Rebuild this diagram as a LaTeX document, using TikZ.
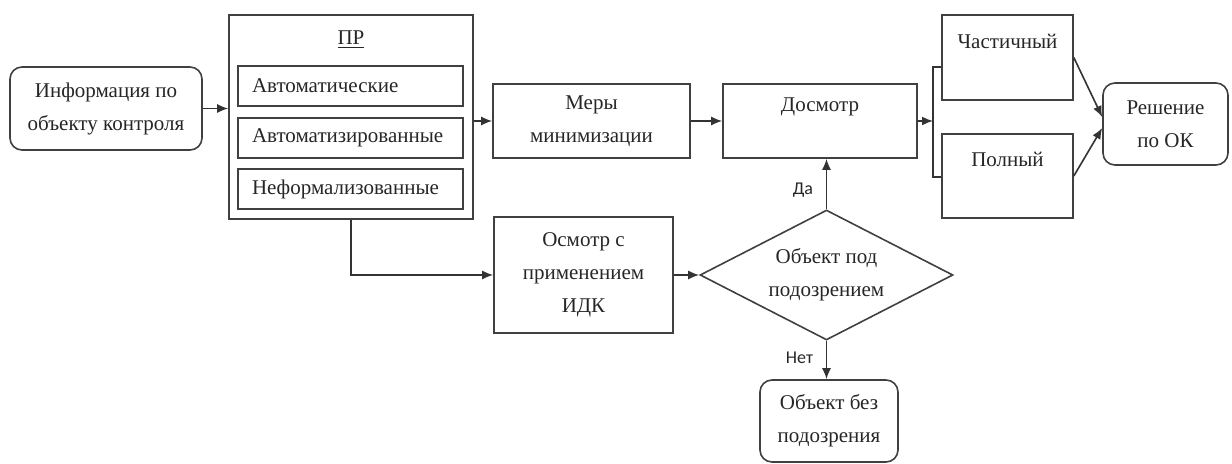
\documentclass[tikz,border=0pt]{standalone}
\usepackage{fontspec}
\setmainfont{Liberation Serif}
\newfontfamily\lblfont{Carlito}
\usetikzlibrary{shapes.geometric,arrows.meta}
\begin{document}
\begin{tikzpicture}[x=0.5pt,y=-0.5pt,
  every node/.style={font=\fontsize{10.5}{16.5}\selectfont, text=black!85},
  box/.style={draw=black!75, line width=0.8pt, align=center, inner sep=0pt},
  rbox/.style={box, rounded corners=6pt},
  subbox/.style={draw=black!75, line width=0.8pt, align=left, text width=98.5pt, inner xsep=7pt, inner ysep=0pt, minimum height=20pt},
  decision/.style={diamond, draw=black!75, line width=0.8pt, align=center, inner sep=0pt, aspect=1.95, minimum width=126.5pt, minimum height=65pt},
  arr/.style={-{Latex[length=5.5pt,width=4.5pt]}, line width=0.8pt, draw=black!80},
  ln/.style={line width=0.8pt, draw=black!80},
  lbl/.style={font=\lblfont\fontsize{9}{11}\selectfont, text=black!85}
]
\useasboundingbox (0,0) rectangle (1232,464);

\node[rbox, minimum width=96pt, minimum height=41.5pt] (info) at (106,108.5) {Информация по\\объекту контроля};

\node[box, minimum width=122pt, minimum height=102pt] (pr) at (351,117) {};
\node (prt) at (351,40) {\underline{ПР}};
\node[subbox] (a1) at (350.5,86) {Автоматические};
\node[subbox] (a2) at (350.5,138) {Автоматизированные};
\node[subbox] (a3) at (350.5,189) {Неформализованные};

\node[box, minimum width=98.5pt, minimum height=37pt] (mery) at (591.5,121) {Меры\\минимизации};
\node[box, minimum width=97pt, minimum height=37pt] (dos) at (820,121) {Досмотр\\\mbox{}};

\node[box, minimum width=65.5pt, minimum height=42.5pt] (chast) at (1007.5,57.5) {Частичный\\\mbox{}};
\node[box, minimum width=65.5pt, minimum height=42pt] (poln) at (1007.5,176) {Полный\\\mbox{}};
\node[rbox, minimum width=62.5pt, minimum height=41pt] (resh) at (1165.5,124) {Решение\\по ОК};

\node[box, minimum width=89.5pt, minimum height=58pt] (osm) at (583.5,275) {Осмотр с\\применением\\ИДК};
\node[decision] (dec) at (826.5,275) {Объект под\\подозрением};
\node[rbox, minimum width=69pt, minimum height=41pt] (bez) at (829,421) {Объект без\\подозрения};

\coordinate (brtop) at (933,67);
\coordinate (brbot) at (933,177);

\draw[arr] (info.east) -- (info.east -| pr.west);
\draw[arr] (pr.east |- mery.west) -- (mery.west);
\draw[arr] (mery.east) -- (dos.west);
\draw[arr] (dos.east) -- (dos.east -| brtop);
\draw[ln] (chast.west |- brtop) -- (brtop) -- (brbot) -- (poln.west |- brbot);
\draw[arr] (chast.east) -- ([yshift=3.5pt]resh.west);
\draw[arr] (poln.east) -- ([yshift=-2pt]resh.west);
\draw[arr] (pr.south) |- (osm.west);
\draw[arr] (osm.east) -- (dec.west);
\draw[arr] (dec.north) -- node[lbl, pos=0.38, left=3pt] {Да} (dec.north |- dos.south);
\draw[arr] (dec.south) -- node[lbl, pos=0.45, left=3pt] {Нет} (dec.south |- bez.north);
\end{tikzpicture}
\end{document}
